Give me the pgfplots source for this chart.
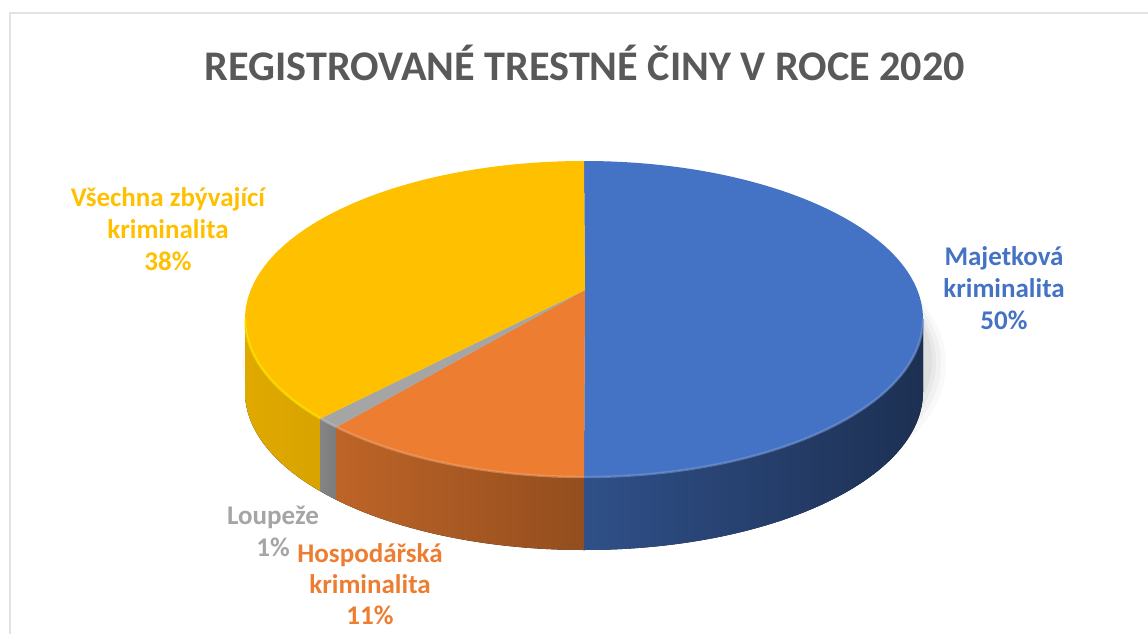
\documentclass[border=0pt]{standalone}
\usepackage{pgfplots}
\pgfplotsset{compat=1.18}
\usepackage{pgfplotstable}
\usepackage{fontspec}
\setmainfont{Carlito}

\definecolor{cBlue}{HTML}{4472C4}
\definecolor{cOrange}{HTML}{ED7D31}
\definecolor{cGray}{HTML}{A5A5A5}
\definecolor{cYellow}{HTML}{FFC000}
\definecolor{cTitle}{HTML}{595959}
\definecolor{cBorder}{HTML}{E3E3E3}

% share of each category (per cent), clockwise from 12 o'clock
\pgfplotstableread{
idx value
0 50
1 11
2 1
3 38
}\piedata

% perspective of the 3-D pie (image pixels, y downwards)
\def\kk{0.1835}
\def\PP{290}
\def\QQ{-99.5}
\def\AA{333.2}
\def\CYimg{319}

\newcommand\paramangle[2]{%
  \pgfmathsetmacro\pu{cos(#1)}%
  \pgfmathsetmacro\pv{sin(#1)}%
  \pgfmathsetmacro\pden{1+\kk*\pv}%
  \pgfmathsetmacro\px{\AA*\pu/\pden}%
  \pgfmathsetmacro\py{(\PP+\QQ*\pv)/\pden}%
  \pgfmathsetmacro#2{atan2((\CYimg-\py)/158,\px/339)}%
}
\newcommand\calcslice[3]{%
  \paramangle{#2}\tmpS
  \paramangle{#3}\tmpE
  \pgfmathsetmacro\tmpE{\tmpE>\tmpS+0.001 ? \tmpE-360 : \tmpE}%
  \expandafter\let\csname tS#1\endcsname\tmpS
  \expandafter\let\csname tE#1\endcsname\tmpE
  \pgfmathsetmacro\tmp{584+339*cos(\tmpS)}\expandafter\let\csname xS#1\endcsname\tmp
  \pgfmathsetmacro\tmp{315+158*sin(\tmpS)}\expandafter\let\csname yS#1\endcsname\tmp
  \pgfmathsetmacro\tmpLo{max(\tmpE,-180)}\expandafter\let\csname lo#1\endcsname\tmpLo
  \pgfmathsetmacro\tmpHi{min(\tmpS,0)}\expandafter\let\csname hi#1\endcsname\tmpHi
  \pgfmathsetmacro\tmp{584+339*cos(\tmpHi)}\expandafter\let\csname xH#1\endcsname\tmp
  \pgfmathsetmacro\tmp{315+158*sin(\tmpHi)}\expandafter\let\csname yH#1\endcsname\tmp
}

% cumulative angles from the table
\pgfmathsetmacro\thA{90}
\pgfplotstablegetelem{0}{value}\of\piedata \pgfmathsetmacro\thB{\thA-3.6*\pgfplotsretval}
\pgfplotstablegetelem{1}{value}\of\piedata \pgfmathsetmacro\thC{\thB-3.6*\pgfplotsretval}
\pgfplotstablegetelem{2}{value}\of\piedata \pgfmathsetmacro\thD{\thC-3.6*\pgfplotsretval}
\pgfplotstablegetelem{3}{value}\of\piedata \pgfmathsetmacro\thE{\thD-3.6*\pgfplotsretval}
\calcslice{a}{\thA}{\thB}
\calcslice{b}{\thB}{\thC}
\calcslice{c}{\thC}{\thD}
\calcslice{d}{\thD}{\thE}

\newcommand\drawtop[2]{%
  \fill[#2] (axis cs:585,344) -- (axis cs:\csname xS#1\endcsname,\csname yS#1\endcsname)
    arc[start angle=\csname tS#1\endcsname, end angle=\csname tE#1\endcsname, x radius=169.5pt, y radius=79pt] -- cycle;}
\newcommand\drawside[3]{%
  \fill[left color=#2, right color=#3] (axis cs:\csname xH#1\endcsname,\csname yH#1\endcsname)
    arc[start angle=\csname hi#1\endcsname, end angle=\csname lo#1\endcsname, x radius=169.5pt, y radius=79pt]
    -- ++(0pt,-36.5pt)
    arc[start angle=\csname lo#1\endcsname, end angle=\csname hi#1\endcsname, x radius=169.5pt, y radius=79pt] -- cycle;}
\newcommand\drawrim[2]{%
  \draw[#2, line width=1.2pt, opacity=0.55] (axis cs:\csname xH#1\endcsname,\csname yH#1\endcsname)
    arc[start angle=\csname hi#1\endcsname, end angle=\csname lo#1\endcsname, x radius=169.5pt, y radius=79pt];}

\begin{document}
\begin{tikzpicture}
\begin{axis}[
  scale only axis, width=574pt, height=317pt,
  xmin=0, xmax=1148, ymin=0, ymax=634,
  hide axis, clip=false,
]
% chart border
\draw[cBorder, line width=1pt] (axis cs:10,0) -- (axis cs:10,621) -- (axis cs:1148,621);
% soft shadow
\fill[black, opacity=0.025] (axis cs:594,270) ellipse[x radius=176pt, y radius=85pt];
\fill[black, opacity=0.03] (axis cs:594,271) ellipse[x radius=173.5pt, y radius=83pt];
\fill[black, opacity=0.035] (axis cs:593,272) ellipse[x radius=171.5pt, y radius=81pt];
\fill[black, opacity=0.04] (axis cs:592,274) ellipse[x radius=170pt, y radius=80pt];
% side walls
\drawside{d}{cYellow!88!black}{cYellow!85!black}
\drawside{c}{cGray!80!black}{cGray!75!black}
\drawside{b}{cOrange!80!black}{cOrange!62!black}
\drawside{a}{cBlue!70!black}{cBlue!42!black}
% top faces
\drawtop{a}{cBlue}
\drawtop{b}{cOrange}
\drawtop{c}{cGray}
\drawtop{d}{cYellow}
% light rim
\drawrim{a}{cBlue!70!white}
\drawrim{b}{cOrange!70!white}
\drawrim{c}{cGray!70!white}
\drawrim{d}{yellow}
% title
\node[text=cTitle, font=\fontsize{21.1}{26}\selectfont\bfseries] at (axis cs:585,571) {REGISTROVANÉ TRESTNÉ ČINY V ROCE 2020};
% data labels
\node[text=cBlue, align=center, font=\fontsize{13.5}{16}\selectfont\bfseries] at (axis cs:1004,346) {Majetková\\kriminalita\\50\%};
\node[text=cYellow, align=center, font=\fontsize{13.5}{16}\selectfont\bfseries] at (axis cs:168,405) {Všechna zbývající\\kriminalita\\38\%};
\node[text=cGray, align=center, font=\fontsize{13.5}{16}\selectfont\bfseries] at (axis cs:273,103) {Loupeže\\1\%};
\node[text=cOrange, align=center, font=\fontsize{13.5}{15.5}\selectfont\bfseries] at (axis cs:370,50) {Hospodářská\\kriminalita\\11\%};
\end{axis}
\pgfresetboundingbox
\path[use as bounding box] (current axis.south west) rectangle (current axis.north east);
\end{tikzpicture}
\end{document}
